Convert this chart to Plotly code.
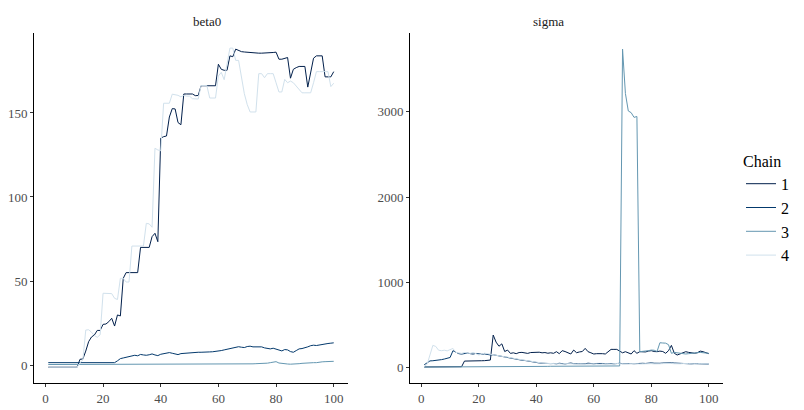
import plotly.graph_objects as go

iterations = list(range(1, 101))
chain_labels = ["1", "2", "3", "4"]
chain_colors = ["#011f4b", "#03396c", "#6497b1", "#d1e1ec"]
panel_titles = ["beta0", "sigma"]

beta0_chain1 = [
    -1.3, -1.3, -1.3, -1.3, -1.3, -1.3, -1.3, -1.3, -1.3, -1.3,
    -1.3, 3.4, 3.6, 8.3, 13.9, 16.7, 17.9, 20.6, 20.6, 24.2,
    24.4, 25.8, 27.8, 23.2, 29.8, 29.2, 51.6, 55.0, 55.0, 55.0,
    55.0, 55.0, 70.0, 70.0, 70.0, 70.0, 76.4, 78.4, 73.4, 135.0,
    135.9, 136.3, 147.6, 152.6, 152.4, 144.3, 143.0, 161.3, 161.3, 161.3,
    161.3, 160.3, 160.4, 166.2, 166.2, 166.2, 166.2, 166.2, 166.2, 179.0,
    176.0, 175.4, 175.4, 184.0, 183.5, 188.0, 187.0, 186.5, 186.3, 186.1,
    186.0, 185.9, 185.7, 185.6, 185.6, 185.6, 185.7, 185.8, 186.0, 186.2,
    182.0, 182.0, 182.3, 183.0, 170.7, 176.0, 177.0, 177.7, 177.7, 177.7,
    165.4, 174.0, 182.6, 184.0, 184.0, 184.0, 171.5, 171.5, 171.5, 174.6,
]
beta0_chain2 = [
    1.4, 1.4, 1.4, 1.4, 1.4, 1.4, 1.4, 1.4, 1.4, 1.4,
    1.4, 1.4, 1.4, 1.4, 1.4, 1.4, 1.4, 1.4, 1.4, 1.4,
    1.4, 1.4, 1.4, 1.4, 2.5, 3.8, 4.2, 4.6, 5.3, 5.6,
    5.8, 5.5, 6.3, 6.0, 5.8, 6.1, 6.6, 6.0, 5.6, 6.4,
    6.6, 7.0, 7.4, 7.0, 6.6, 6.2, 6.8, 7.0, 7.0, 7.2,
    7.4, 7.4, 7.6, 7.6, 7.8, 7.7, 7.8, 7.9, 8.0, 8.2,
    8.6, 9.0, 9.3, 9.8, 10.2, 10.6, 10.9, 10.6, 10.4, 11.0,
    11.2, 10.8, 10.9, 11.1, 10.8, 10.2, 9.8, 9.6, 10.0, 9.6,
    8.9, 8.4, 9.2, 9.0, 8.0, 7.6, 8.6, 9.6, 9.8, 10.2,
    10.8, 11.5, 11.8, 11.6, 12.0, 12.3, 12.5, 12.8, 13.0, 13.2,
]
beta0_chain3 = [
    0.3, 0.3, 0.3, 0.3, 0.3, 0.3, 0.3, 0.3, 0.3, 0.3,
    0.3, 0.3, 0.3, 0.3, 0.3, 0.3, 0.3, 0.3, 0.3, 0.3,
    0.3, 0.3, 0.3, 0.3, 0.3, 0.3, 0.3, 0.3, 0.3, 0.3,
    0.3, 0.3, 0.3, 0.3, 0.3, 0.3, 0.3, 0.3, 0.3, 0.3,
    0.3, 0.3, 0.3, 0.3, 0.3, 0.3, 0.3, 0.3, 0.3, 0.3,
    0.3, 0.3, 0.3, 0.3, 0.3, 0.3, 0.3, 0.3, 0.3, 0.3,
    0.3, 0.3, 0.3, 0.3, 0.3, 0.3, 0.3, 0.3, 0.3, 0.4,
    0.6, 0.7, 0.8, 0.8, 0.9, 1.0, 1.1, 1.4, 1.5, 2.0,
    1.2, 0.9, 0.8, 0.6, 0.5, 0.5, 0.6, 0.8, 1.0, 1.2,
    1.3, 1.3, 1.4, 1.4, 1.8, 1.9, 2.0, 2.0, 2.1, 2.2,
]
beta0_chain4 = [
    -1.3, -1.3, -1.3, -1.3, -1.3, -1.3, -1.3, -1.3, -1.3, -1.3,
    -1.3, 1.4, 3.0, 20.8, 21.0, 19.5, 17.5, 16.5, 18.0, 42.7,
    42.7, 42.7, 42.5, 39.7, 39.0, 51.6, 51.6, 49.4, 49.4, 70.8,
    70.8, 70.8, 70.8, 70.8, 84.3, 84.0, 82.0, 129.0, 128.0, 127.5,
    155.8, 155.8, 155.8, 161.2, 161.0, 160.5, 159.6, 160.5, 160.0, 160.0,
    158.5, 158.3, 158.3, 166.3, 166.3, 166.3, 158.9, 158.9, 158.9, 172.0,
    174.2, 169.8, 180.0, 188.6, 188.6, 181.3, 181.3, 170.0, 161.5, 155.0,
    150.6, 150.6, 150.6, 173.4, 173.4, 171.0, 173.4, 173.4, 173.4, 168.0,
    162.5, 162.5, 170.0, 168.0, 169.0, 168.0, 166.0, 164.0, 162.0, 162.0,
    162.0, 162.0, 168.0, 174.6, 174.6, 174.6, 174.6, 174.6, 165.7, 167.7,
]

sigma_chain1 = [
    9, 9, 9, 10, 10, 10, 10, 11, 11, 11,
    11, 12, 12, 12, 78, 80, 80, 81, 81, 82,
    82, 83, 84, 90, 383, 300, 252, 280, 190, 207,
    168, 175, 165, 178, 180, 172, 168, 178, 182, 186,
    182, 175, 178, 170, 175, 169, 188, 165, 200, 190,
    176, 161, 207, 176, 185, 190, 227, 188, 175, 161,
    165, 169, 165, 161, 188, 215, 215, 215, 195, 175,
    188, 172, 161, 200, 169, 188, 188, 185, 195, 200,
    190, 188, 195, 190, 169, 200, 262, 170, 149, 165,
    180, 188, 180, 175, 170, 175, 195, 188, 180, 165,
]
sigma_chain2 = [
    35, 60, 80, 82, 84, 88, 95, 102, 110, 120,
    200, 178, 165, 160, 168, 172, 165, 160, 168, 162,
    158, 162, 155, 150, 152, 145, 140, 132, 125, 118,
    110, 102, 96, 92, 88, 85, 78, 72, 66, 60,
    56, 53, 50, 48, 48, 50, 46, 52, 48, 45,
    50, 55, 48, 46, 52, 50, 47, 53, 49, 46,
    50, 54, 50, 47, 52, 49, 46, 50, 52, 48,
    50, 53, 49, 47, 51, 55, 52, 50, 54, 57,
    53, 50, 52, 55, 58, 60, 57, 55, 52, 50,
    48, 50, 47, 45, 48, 46, 44, 46, 45, 43,
]
sigma_chain3 = [
    8, 8, 8, 8, 9, 9, 9, 9, 9, 10,
    10, 10, 10, 10, 11, 11, 11, 11, 11, 12,
    12, 12, 12, 12, 13, 13, 13, 13, 13, 14,
    14, 14, 14, 14, 15, 15, 15, 15, 15, 16,
    16, 16, 16, 16, 17, 17, 17, 17, 17, 18,
    18, 18, 18, 18, 19, 19, 19, 19, 19, 20,
    20, 20, 20, 20, 20, 21, 21, 21, 21, 3735,
    3215, 3010, 2990, 2935, 2945, 188, 190, 195, 200, 207,
    205, 190, 293, 290, 288, 270, 169, 180, 175, 169,
    165, 161, 165, 169, 172, 176, 180, 176, 172, 169,
]
sigma_chain4 = [
    15, 40, 150, 262, 250, 205, 200, 205, 198, 210,
    226, 180, 172, 168, 178, 175, 168, 180, 165, 150,
    160, 170, 165, 158, 150, 142, 136, 130, 128, 124,
    120, 116, 105, 98, 92, 85, 80, 74, 68, 62,
    58, 55, 52, 50, 48, 45, 42, 40, 44, 48,
    45, 42, 40, 44, 46, 43, 40, 42, 45, 48,
    44, 41, 45, 49, 46, 43, 47, 50, 46, 44,
    47, 45, 48, 51, 47, 44, 46, 49, 52, 48,
    45, 43, 46, 49, 52, 55, 50, 47, 44, 46,
    49, 52, 48, 45, 43, 46, 48, 45, 43, 45,
]

beta0 = [beta0_chain1, beta0_chain2, beta0_chain3, beta0_chain4]
sigma = [sigma_chain1, sigma_chain2, sigma_chain3, sigma_chain4]
for s in beta0 + sigma:
    assert len(s) == 100, len(s)

W, H = 804, 410
FONT = "Liberation Serif, Times New Roman, serif"

fig = go.Figure()
for k in range(4):
    fig.add_trace(go.Scatter(
        x=iterations, y=beta0[k], mode="lines", name=chain_labels[k],
        legendgroup=chain_labels[k], line=dict(color=chain_colors[k], width=1),
        xaxis="x", yaxis="y", showlegend=True,
    ))
for k in range(4):
    fig.add_trace(go.Scatter(
        x=iterations, y=sigma[k], mode="lines", name=chain_labels[k],
        legendgroup=chain_labels[k], line=dict(color=chain_colors[k], width=1),
        xaxis="x2", yaxis="y2", showlegend=False,
    ))

y_dom = [(H - 383) / H, (H - 33) / H]
axis_common = dict(
    showline=True, linecolor="black", linewidth=1, showgrid=False, zeroline=False,
    ticks="outside", ticklen=3, tickcolor="#333333", tickwidth=1,
    tickfont=dict(family=FONT, size=13, color="#4d4d4d"),
)
fig.update_layout(
    width=W, height=H,
    margin=dict(l=0, r=0, t=0, b=0),
    paper_bgcolor="white", plot_bgcolor="white",
    font=dict(family=FONT),
    xaxis=dict(domain=[34 / W, 348 / W], range=[-3.95, 104.95], anchor="y",
               tickvals=[0, 20, 40, 60, 80, 100], **axis_common),
    yaxis=dict(domain=y_dom, range=[-10.7, 197.6], anchor="x",
               tickvals=[0, 50, 100, 150], **axis_common),
    xaxis2=dict(domain=[410 / W, 723 / W], range=[-3.95, 104.95], anchor="y2",
                tickvals=[0, 20, 40, 60, 80, 100], **axis_common),
    yaxis2=dict(domain=y_dom, range=[-179, 3924], anchor="x2",
                tickvals=[0, 1000, 2000, 3000], **axis_common),
    legend=dict(
        x=741 / W, y=(H - 146) / H, xanchor="left", yanchor="top",
        title=dict(text="Chain", font=dict(family=FONT, size=16, color="black")),
        font=dict(family=FONT, size=16, color="black"),
        bgcolor="rgba(0,0,0,0)", itemwidth=30, tracegroupgap=0,
    ),
    annotations=[
        dict(text=panel_titles[0], x=191 / W, y=(H - 12) / H, xref="paper", yref="paper",
             showarrow=False, font=dict(family=FONT, size=13, color="#1a1a1a")),
        dict(text=panel_titles[1], x=566 / W, y=(H - 12) / H, xref="paper", yref="paper",
             showarrow=False, font=dict(family=FONT, size=13, color="#1a1a1a")),
    ],
)

fig.write_html(
    "out.html",
    config={"displayModeBar": False},
    post_script="document.body.style.margin='0';document.body.style.padding='0';",
)
